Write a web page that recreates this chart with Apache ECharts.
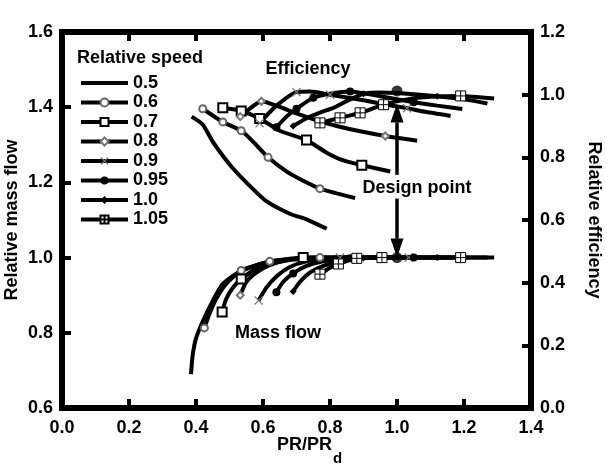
<!DOCTYPE html>
<html><head><meta charset="utf-8">
<script src="https://cdn.jsdelivr.net/npm/echarts@6/dist/echarts.min.js"></script>
<style>html,body{margin:0;padding:0;background:#fff}#c{width:607px;height:473px}</style>
</head><body><div id="c"></div>
<script>
// ---------------- data ----------------
const speeds = ['0.5', '0.6', '0.7', '0.8', '0.9', '0.95', '1.0', '1.05'];
const xTickValues = [0.0, 0.2, 0.4, 0.6, 0.8, 1.0, 1.2, 1.4];
const massTickValues = [0.6, 0.8, 1.0, 1.2, 1.4, 1.6];
const effTickValues = [0.0, 0.2, 0.4, 0.6, 0.8, 1.0, 1.2];

// Relative efficiency vs PR/PRd (curve points and marker points)
const eff05 = [[0.387,0.93],[0.42,0.905],[0.45,0.85],[0.48,0.805],[0.51,0.765],[0.55,0.72],[0.61,0.66],[0.68,0.62],[0.73,0.602],[0.79,0.572]];
const eff05Marks = [];
const eff06 = [[0.42,0.955],[0.48,0.913],[0.535,0.885],[0.575,0.845],[0.615,0.80],[0.67,0.755],[0.72,0.725],[0.77,0.70],[0.82,0.685],[0.875,0.67]];
const eff06Marks = [[0.42,0.955],[0.48,0.913],[0.535,0.885],[0.615,0.80],[0.77,0.70]];
const eff07 = [[0.48,0.958],[0.535,0.948],[0.59,0.924],[0.65,0.885],[0.73,0.855],[0.79,0.815],[0.84,0.79],[0.895,0.775],[0.98,0.755]];
const eff07Marks = [[0.48,0.958],[0.535,0.948],[0.59,0.924],[0.73,0.855],[0.895,0.775]];
const eff08 = [[0.532,0.93],[0.56,0.955],[0.595,0.979],[0.645,0.963],[0.70,0.94],[0.76,0.918],[0.82,0.90],[0.89,0.883],[0.965,0.868],[1.06,0.853]];
const eff08Marks = [[0.532,0.93],[0.595,0.979],[0.965,0.868]];
const eff09 = [[0.59,0.909],[0.63,0.955],[0.67,0.99],[0.70,1.008],[0.74,1.01],[0.80,1.0],[0.90,0.982],[1.0,0.962],[1.08,0.946],[1.16,0.932]];
const eff09Marks = [[0.59,0.909],[0.70,1.008],[0.80,1.0],[1.03,0.957]];
const eff095 = [[0.64,0.896],[0.67,0.93],[0.70,0.955],[0.75,0.99],[0.80,1.003],[0.86,1.01],[0.95,0.995],[1.05,0.976],[1.12,0.965],[1.195,0.954]];
const eff095Marks = [[0.64,0.896],[0.70,0.955],[0.75,0.99],[0.86,1.01],[1.05,0.976]];
const eff10 = [[0.69,0.90],[0.73,0.925],[0.77,0.943],[0.81,0.958],[0.86,0.985],[0.90,1.003],[0.95,1.007],[1.0,1.005],[1.12,0.995],[1.2,0.985],[1.27,0.972]];
const eff10Marks = [[0.69,0.90],[0.90,1.003],[1.12,0.995]];
const eff105 = [[0.77,0.91],[0.83,0.926],[0.89,0.942],[0.96,0.968],[1.03,0.985],[1.1,0.993],[1.19,0.996],[1.29,0.988]];
const eff105Marks = [[0.77,0.91],[0.83,0.926],[0.89,0.942],[0.96,0.968],[1.19,0.996]];

// Relative mass flow vs PR/PRd
const mf05 = [[0.385,0.69],[0.39,0.74],[0.40,0.785],[0.42,0.83],[0.45,0.885],[0.48,0.93],[0.53,0.962],[0.60,0.985],[0.68,0.997],[0.79,1.0]];
const mf05Marks = [];
const mf06 = [[0.425,0.813],[0.44,0.85],[0.46,0.89],[0.49,0.93],[0.535,0.966],[0.58,0.98],[0.62,0.99],[0.70,0.997],[0.77,1.0],[0.875,1.0]];
const mf06Marks = [[0.425,0.813],[0.535,0.966],[0.62,0.99],[0.77,1.0]];
const mf07 = [[0.478,0.855],[0.49,0.89],[0.51,0.92],[0.535,0.943],[0.58,0.97],[0.63,0.985],[0.72,1.0],[0.85,1.0],[0.98,1.0]];
const mf07Marks = [[0.478,0.855],[0.535,0.943],[0.72,1.0]];
const mf08 = [[0.532,0.90],[0.55,0.935],[0.58,0.96],[0.62,0.98],[0.67,0.992],[0.75,0.998],[0.85,1.0],[1.06,1.0]];
const mf08Marks = [[0.532,0.90]];
const mf09 = [[0.587,0.886],[0.61,0.92],[0.64,0.95],[0.68,0.975],[0.73,0.99],[0.80,0.998],[0.9,1.0],[1.16,1.0]];
const mf09Marks = [[0.587,0.886],[0.83,1.0],[1.035,1.0]];
const mf095 = [[0.64,0.908],[0.66,0.935],[0.69,0.958],[0.73,0.978],[0.78,0.99],[0.86,0.998],[0.95,1.0],[1.05,1.0],[1.2,1.0]];
const mf095Marks = [[0.64,0.908],[0.69,0.958],[0.86,0.998],[1.05,1.0]];
const mf10 = [[0.69,0.91],[0.71,0.935],[0.74,0.96],[0.78,0.978],[0.83,0.99],[0.9,0.999],[1.0,1.0],[1.12,1.0],[1.27,1.0]];
const mf10Marks = [[0.69,0.91],[0.9,0.999],[1.12,1.0]];
const mf105 = [[0.77,0.956],[0.80,0.973],[0.83,0.985],[0.88,0.998],[0.95,1.0],[1.19,1.0],[1.29,1.0]];
const mf105Marks = [[0.77,0.956],[0.825,0.983],[0.88,0.998],[0.955,1.0],[1.19,1.0]];

// design point
const designEff = [[1.0, 1.012]];
const designMass = [[1.0, 1.0]];
// arrow annotations (in relative mass flow units): [from, tip]
const arrowUp = [[1.0, 1.22], [1.0, 1.41]];
const arrowDown = [[1.0, 1.157], [1.0, 1.0]];

// ---------------- styles ----------------
const FONT = "'Liberation Sans', Arial, Helvetica, sans-serif";
const X_PATH = 'path://M0,1 L1,0 L5,4 L9,0 L10,1 L6,5 L10,9 L9,10 L5,6 L1,10 L0,9 L4,5 Z';
const BOX_PATH = 'path://M0,0 L10,0 L10,10 L0,10 Z M5,0 L5,10 M0,5 L10,5';
const styles = {
  '0.5':  {symbol: 'circle', size: 0, item: {color: 'rgba(0,0,0,0)'}},
  '0.6':  {symbol: 'emptyCircle', size: 7, item: {color: '#666'}},
  '0.7':  {symbol: 'emptyRect', size: 9, item: {color: '#000'}},
  '0.8':  {symbol: 'emptyDiamond', size: 7, item: {color: '#777'}},
  '0.9':  {symbol: X_PATH, size: 9, item: {color: '#777'}},
  '0.95': {symbol: 'circle', size: 8, item: {color: '#000'}},
  '1.0':  {symbol: 'diamond', size: 7, item: {color: '#000'}},
  '1.05': {symbol: BOX_PATH, size: 10, item: {color: '#fff', borderColor: '#000', borderWidth: 1}}
};
const effData = {'0.5':[eff05,eff05Marks],'0.6':[eff06,eff06Marks],'0.7':[eff07,eff07Marks],'0.8':[eff08,eff08Marks],
  '0.9':[eff09,eff09Marks],'0.95':[eff095,eff095Marks],'1.0':[eff10,eff10Marks],'1.05':[eff105,eff105Marks]};
const massData = {'0.5':[mf05,mf05Marks],'0.6':[mf06,mf06Marks],'0.7':[mf07,mf07Marks],'0.8':[mf08,mf08Marks],
  '0.9':[mf09,mf09Marks],'0.95':[mf095,mf095Marks],'1.0':[mf10,mf10Marks],'1.05':[mf105,mf105Marks]};

function build(pts, marks) {
  const items = pts.map(p => ({value: p, symbol: 'none'}))
    .concat(marks.map(p => ({value: p})));
  items.sort((a, b) => a.value[0] - b.value[0]);
  return items;
}
function makeSeries(name, pair, yIdx) {
  const s = styles[name];
  return {
    type: 'line', name: name, yAxisIndex: yIdx, xAxisIndex: 0,
    data: build(pair[0], pair[1]),
    symbol: s.symbol, symbolSize: s.size, showSymbol: true,
    smooth: 0.2,
    lineStyle: {color: '#000', width: 4},
    itemStyle: Object.assign({}, s.item),
    emphasis: {disabled: true}
  };
}

const series = [];
speeds.forEach(sp => { series.push(makeSeries(sp, effData[sp], 1)); });
speeds.forEach(sp => { series.push(makeSeries(sp, massData[sp], 0)); });
series.push({type: 'scatter', name: 'design', yAxisIndex: 1, data: designEff, symbol: 'circle', symbolSize: 11, itemStyle: {color: '#000'}, z: 5});
series.push({type: 'scatter', name: 'design', yAxisIndex: 0, data: designMass, symbol: 'circle', symbolSize: 11, itemStyle: {color: '#000'}, z: 5});

const axisLineStyle = {show: true, onZero: false, lineStyle: {color: '#000', width: 6, cap: 'square'}};
const tickStyle = {show: true, inside: true, length: 9, lineStyle: {color: '#000', width: 4}};
const labelBase = {color: '#000', fontSize: 18, fontWeight: 'bold', fontFamily: FONT, formatter: v => v.toFixed(1)};
const nameStyle = {color: '#000', fontSize: 18, fontWeight: 'bold', fontFamily: FONT};

const chart = echarts.init(document.getElementById('c'), null, {renderer: 'canvas'});
chart.setOption({
  animation: false,
  backgroundColor: '#fff',
  grid: {left: 62, right: 76, top: 32, bottom: 65, containLabel: false, outerBoundsMode: 'none'},
  xAxis: [
    {type: 'value', min: xTickValues[0], max: xTickValues[xTickValues.length - 1], interval: 0.2, position: 'bottom',
     axisLine: axisLineStyle, axisTick: tickStyle, axisLabel: Object.assign({margin: 11}, labelBase), splitLine: {show: false}},
    {type: 'value', min: xTickValues[0], max: xTickValues[xTickValues.length - 1], interval: 0.2, position: 'top',
     axisLine: axisLineStyle, axisTick: tickStyle, axisLabel: {show: false}, splitLine: {show: false}}
  ],
  yAxis: [
    {type: 'value', min: massTickValues[0], max: massTickValues[massTickValues.length - 1], interval: 0.2, position: 'left',
     axisLine: axisLineStyle, axisTick: tickStyle, axisLabel: Object.assign({margin: 9}, labelBase), splitLine: {show: false},
     name: 'Relative mass flow', nameLocation: 'middle', nameGap: 41, nameMoveOverlap: false, nameTextStyle: nameStyle},
    {type: 'value', min: effTickValues[0], max: effTickValues[effTickValues.length - 1], interval: 0.2, position: 'right',
     axisLine: axisLineStyle, axisTick: tickStyle, axisLabel: Object.assign({margin: 9}, labelBase), splitLine: {show: false},
     name: 'Relative efficiency', nameLocation: 'middle', nameGap: 54, nameRotate: -90, nameMoveOverlap: false, nameTextStyle: nameStyle}
  ],
  legend: {
    orient: 'vertical', left: 79, top: 74, padding: 0,
    itemWidth: 47, itemHeight: 10, itemGap: 1.5,
    data: speeds,
    lineStyle: {width: 4},
    textStyle: {color: '#000', fontSize: 18, fontWeight: 'bold', fontFamily: FONT, lineHeight: 18},
    selectedMode: false
  },
  series: series
});

// annotations
function px(p) { return chart.convertToPixel({xAxisIndex: 0, yAxisIndex: 0}, p); }
function arrow(seg) {
  const a = px(seg[0]), b = px(seg[1]);
  const dir = Math.sign(b[1] - a[1]);
  const headLen = 19, halfW = 6.5;
  const base = b[1] - dir * headLen;
  return [
    {type: 'line', shape: {x1: a[0], y1: a[1], x2: b[0], y2: base}, style: {stroke: '#000', lineWidth: 3.5}, z: 10},
    {type: 'polygon', shape: {points: [[b[0], b[1]], [b[0] - halfW, base], [b[0] + halfW, base]]}, style: {fill: '#000'}, z: 10}
  ];
}
const textFont = 'bold 18px ' + FONT;
chart.setOption({
  graphic: [
    {type: 'text', style: {text: 'Relative speed', x: 77, y: 58, font: textFont, fill: '#000', align: 'left', verticalAlign: 'middle'}},
    {type: 'text', style: {text: 'Efficiency', x: 308, y: 69, font: textFont, fill: '#000', align: 'center', verticalAlign: 'middle'}},
    {type: 'text', style: {text: 'Mass flow', x: 278, y: 333, font: textFont, fill: '#000', align: 'center', verticalAlign: 'middle'}},
    {type: 'text', style: {text: 'Design point', x: 417, y: 188, font: textFont, fill: '#000', align: 'center', verticalAlign: 'middle'}},
    // x-axis title PR/PR with subscript d
    {type: 'text', style: {text: 'PR/PR', x: 332, y: 445, font: textFont, fill: '#000', align: 'right', verticalAlign: 'middle'}},
    {type: 'text', style: {text: 'd', x: 333, y: 459, font: 'bold 15px ' + FONT, fill: '#000', align: 'left', verticalAlign: 'middle'}}
  ].concat(arrow(arrowUp), arrow(arrowDown))
});
</script></body></html>
